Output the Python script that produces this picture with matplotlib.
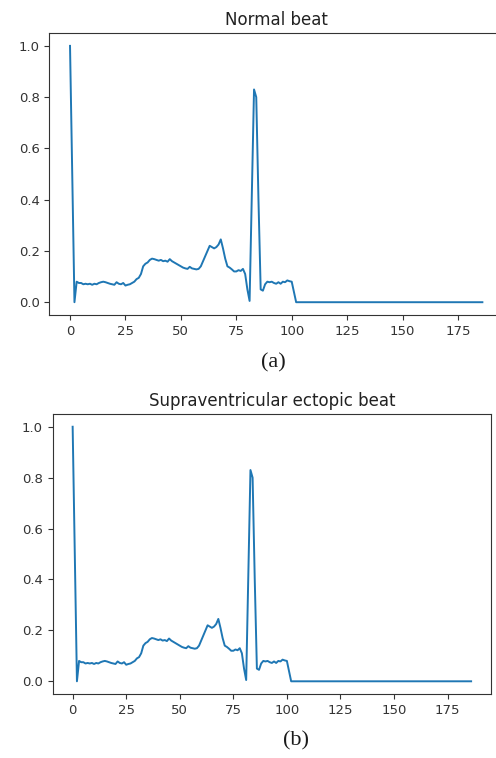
import matplotlib.pyplot as plt

# 心拍波形 (187 samples)
normal_beat = [
    1.00, 0.50, 0.00, 0.080, 0.075, 0.075, 0.070, 0.072, 0.070, 0.072,
    0.068, 0.072, 0.070, 0.075, 0.078, 0.080, 0.078, 0.075, 0.072, 0.070,
    0.068, 0.078, 0.072, 0.070, 0.075, 0.065, 0.068, 0.070, 0.075, 0.080,
    0.090, 0.095, 0.110, 0.140, 0.150, 0.155, 0.165, 0.170, 0.168, 0.165,
    0.162, 0.165, 0.160, 0.162, 0.158, 0.168, 0.160, 0.155, 0.150, 0.145,
    0.140, 0.135, 0.132, 0.130, 0.138, 0.132, 0.130, 0.128, 0.130, 0.140,
    0.160, 0.180, 0.200, 0.220, 0.215, 0.210, 0.215, 0.225, 0.245, 0.210,
    0.170, 0.140, 0.135, 0.128, 0.120, 0.120, 0.125, 0.122, 0.130, 0.110,
    0.050, 0.005, 0.420, 0.830, 0.800, 0.400, 0.050, 0.045, 0.070, 0.080,
    0.078, 0.080, 0.075, 0.072, 0.078, 0.072, 0.080, 0.078, 0.085, 0.082,
    0.080, 0.040,
] + [0.0] * 85

sveb_beat = [
    1.00, 0.50, 0.00, 0.080, 0.075, 0.075, 0.070, 0.072, 0.070, 0.072,
    0.068, 0.072, 0.070, 0.075, 0.078, 0.080, 0.078, 0.075, 0.072, 0.070,
    0.068, 0.078, 0.072, 0.070, 0.075, 0.065, 0.068, 0.070, 0.075, 0.080,
    0.090, 0.095, 0.110, 0.140, 0.150, 0.155, 0.165, 0.170, 0.168, 0.165,
    0.162, 0.165, 0.160, 0.162, 0.158, 0.168, 0.160, 0.155, 0.150, 0.145,
    0.140, 0.135, 0.132, 0.130, 0.138, 0.132, 0.130, 0.128, 0.130, 0.140,
    0.160, 0.180, 0.200, 0.220, 0.215, 0.210, 0.215, 0.225, 0.245, 0.210,
    0.170, 0.140, 0.135, 0.128, 0.120, 0.120, 0.125, 0.122, 0.130, 0.110,
    0.050, 0.005, 0.420, 0.830, 0.800, 0.400, 0.050, 0.045, 0.070, 0.080,
    0.078, 0.080, 0.075, 0.072, 0.078, 0.072, 0.080, 0.078, 0.085, 0.082,
    0.080, 0.040,
] + [0.0] * 85

titles = ["Normal beat", "Supraventricular ectopic beat"]
captions = ["(a)", "(b)"]


def draw_beat(ax, values, title):
    ax.plot(range(len(values)), values, color="#1f77b4", lw=1.4)
    ax.set_title(title, fontsize=12, color="#222222")
    ax.set_xticks([0, 25, 50, 75, 100, 125, 150, 175])
    ax.set_yticks([0.0, 0.2, 0.4, 0.6, 0.8, 1.0])
    ax.tick_params(labelsize=9.5, colors="#333333")
    for s in ax.spines.values():
        s.set_color("#333333")


fig = plt.figure(figsize=(4.96, 7.58), dpi=100)

# 上のパネルは右端が画像からはみ出している
ax1 = fig.add_axes([0.0996, 0.5844, 0.9145, 0.372])
ax2 = fig.add_axes([0.1063, 0.0844, 0.8837, 0.3694])

draw_beat(ax1, normal_beat, titles[0])
draw_beat(ax2, sveb_beat, titles[1])

fig.text(273 / 496, 1 - 363 / 758, captions[0], ha="center", va="center",
         fontsize=16, family="Liberation Serif", color="#1a1a1a")
fig.text(296 / 496, 1 - 741 / 758, captions[1], ha="center", va="center",
         fontsize=16, family="Liberation Serif", color="#1a1a1a")

plt.savefig("out.png", dpi=100)
